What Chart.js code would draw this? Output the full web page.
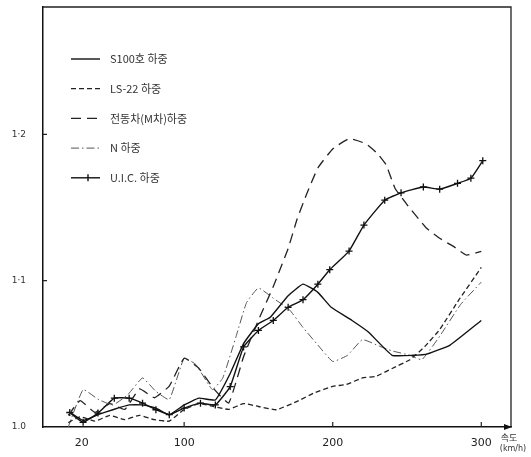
<!DOCTYPE html>
<html>
<head>
<meta charset="utf-8">
<script src="https://cdn.jsdelivr.net/npm/chart.js@4"></script>
<style>
  html, body { margin: 0; background: #fff; }
  #wrap { width: 531px; height: 457px; }
</style>
</head>
<body>
<div id="wrap"><canvas id="loadChart"></canvas></div>
<script>
// series labels
const seriesNames = ['S100호 하중', 'LS-22 하중', '전동차(M차)하중', 'N 하중', 'U.I.C. 하중'];

// S100 (solid)
const s100X = [24, 32, 42, 52, 63, 72, 81, 90, 100, 110, 121, 131, 140, 150, 158, 170, 180, 190, 199, 213, 224, 240, 254, 264, 279, 300];
const s100Y = [1.0095, 1.0045, 1.0084, 1.0118, 1.0151, 1.0151, 1.0129, 1.0084, 1.0151, 1.0197, 1.0185, 1.0366, 1.057, 1.0705, 1.075, 1.0897, 1.0976, 1.092, 1.0818, 1.0728, 1.0649, 1.049, 1.049, 1.050, 1.056, 1.0728];

// LS-22 (short dash)
const ls22X = [22, 30, 40, 50, 60, 70, 80, 90, 100, 110, 120, 130, 140, 150, 162, 176, 188, 200, 209, 220, 229, 240, 252, 262, 272, 285, 300];
const ls22Y = [1.003, 1.007, 1.004, 1.008, 1.005, 1.008, 1.005, 1.004, 1.012, 1.016, 1.014, 1.012, 1.016, 1.014, 1.0118, 1.0175, 1.0235, 1.0278, 1.029, 1.0335, 1.0346, 1.040, 1.046, 1.055, 1.0666, 1.087, 1.109];

// 전동차 M차 (long dash)
const emuX = [22, 30, 40, 50, 60, 70, 80, 90, 100, 110, 120, 130, 140, 150, 160, 170, 176, 182, 190, 200, 211, 222, 230, 236, 242, 250, 263, 272, 281, 290, 300];
const emuY = [1.008, 1.018, 1.010, 1.016, 1.012, 1.026, 1.020, 1.028, 1.047, 1.040, 1.026, 1.0164, 1.048, 1.073, 1.096, 1.122, 1.142, 1.158, 1.177, 1.190, 1.197, 1.1937, 1.187, 1.179, 1.163, 1.152, 1.136, 1.129, 1.1236, 1.1175, 1.120];

// N (dash-dot)
const nX = [22, 32, 42, 52, 62, 72, 81, 90, 100, 108, 119, 126, 135, 142, 150, 160, 171, 180, 190, 200, 210, 220, 232, 240, 252, 260, 272, 286, 300];
const nY = [1.000, 1.0255, 1.019, 1.015, 1.022, 1.0335, 1.0243, 1.0187, 1.047, 1.0426, 1.0256, 1.0335, 1.062, 1.085, 1.095, 1.088, 1.080, 1.068, 1.056, 1.0448, 1.049, 1.0597, 1.055, 1.052, 1.049, 1.046, 1.062, 1.0836, 1.099];

// U.I.C. (solid with marks)
const uicX = [23, 32, 42, 53, 63, 72, 81, 90, 100, 111, 121, 131, 140, 150, 160, 170, 180, 190, 198, 211, 221, 235, 246, 261, 272, 284, 293, 301];
const uicY = [1.0099, 1.0032, 1.0095, 1.0197, 1.0197, 1.0163, 1.0118, 1.0084, 1.0129, 1.0163, 1.0151, 1.0276, 1.0547, 1.066, 1.0728, 1.0818, 1.087, 1.0976, 1.1075, 1.1202, 1.138, 1.155, 1.160, 1.164, 1.1625, 1.1665, 1.170, 1.182];

// axis ticks
const xTickValues = [31, 100, 200, 300];
const xTickLabels = ['20', '100', '200', '300'];
const yTickValues = [1.0, 1.1, 1.2];
const yTickLabels = ['1.0', '1·1', '1·2'];
const xUnitLabel = ['속도', '(km/h)'];

const pts = (xs, ys) => xs.map((x, i) => ({ x: x, y: ys[i] }));

const styles = [
    { data: pts(s100X, s100Y), borderColor: '#111', borderWidth: 1.4, borderDash: [] },
    { data: pts(ls22X, ls22Y), borderColor: '#222', borderWidth: 1.3, borderDash: [5, 3] },
    { data: pts(emuX, emuY), borderColor: '#222', borderWidth: 1.3, borderDash: [10, 6] },
    { data: pts(nX, nY), borderColor: '#555', borderWidth: 1, borderDash: [8, 3, 1.5, 3] },
    { data: pts(uicX, uicY), borderColor: '#111', borderWidth: 1.4, borderDash: [],
      pointStyle: 'cross', pointRadius: 3.5, pointBorderWidth: 1.3, pointBorderColor: '#111' }
];

const datasets = styles.map((s, i) => Object.assign({
    label: seriesNames[i],
    tension: 0.12,
    fill: false,
    pointRadius: 0
}, s));

const framePlugin = {
    id: 'frame',
    afterDraw(chart) {
        const ctx = chart.ctx;
        const a = chart.chartArea;
        const xs = chart.scales.x;
        const ys = chart.scales.y;
        ctx.save();

        // top and right frame
        ctx.strokeStyle = '#222';
        ctx.lineWidth = 1.3;
        ctx.beginPath();
        ctx.moveTo(a.left, a.top);
        ctx.lineTo(a.right, a.top);
        ctx.lineTo(a.right, a.bottom);
        ctx.stroke();

        // inner tick marks
        ctx.lineWidth = 1.2;
        ctx.beginPath();
        xTickValues.slice(1).forEach(v => {
            const px = xs.getPixelForValue(v);
            ctx.moveTo(px, a.bottom);
            ctx.lineTo(px, a.bottom - 5);
        });
        yTickValues.slice(1).forEach(v => {
            const py = ys.getPixelForValue(v);
            ctx.moveTo(a.left, py);
            ctx.lineTo(a.left + 4, py);
        });
        ctx.stroke();

        // arrow at end of x axis
        ctx.fillStyle = '#111';
        ctx.beginPath();
        ctx.moveTo(a.right + 1, a.bottom);
        ctx.lineTo(a.right - 7, a.bottom - 3);
        ctx.lineTo(a.right - 7, a.bottom + 3);
        ctx.closePath();
        ctx.fill();

        // unit label
        ctx.fillStyle = '#333';
        ctx.textAlign = 'center';
        ctx.textBaseline = 'middle';
        ctx.font = '9px "Noto Sans CJK KR"';
        ctx.fillText(xUnitLabel[0], a.right - 2, a.bottom + 11);
        ctx.font = '8px "DejaVu Sans"';
        ctx.fillText(xUnitLabel[1], a.right + 2, a.bottom + 22);

        // legend inside the plot
        ctx.textAlign = 'left';
        ctx.font = '11px "Noto Sans CJK KR"';
        chart.data.datasets.forEach((ds, i) => {
            const y = a.top + 52 + i * 29.7;
            const x0 = 71, x1 = 100;
            ctx.strokeStyle = ds.borderColor;
            ctx.lineWidth = ds.borderWidth;
            ctx.setLineDash(ds.borderDash || []);
            ctx.beginPath();
            ctx.moveTo(x0, y);
            ctx.lineTo(x1, y);
            ctx.stroke();
            ctx.setLineDash([]);
            if (ds.pointStyle === 'cross') {
                ctx.beginPath();
                ctx.moveTo(88, y - 3.5);
                ctx.lineTo(88, y + 3.5);
                ctx.stroke();
            }
            ctx.fillStyle = '#333';
            ctx.fillText(ds.label, 110, y);
        });
        ctx.restore();
    }
};

new Chart(document.getElementById('loadChart'), {
    type: 'line',
    data: { datasets: datasets },
    options: {
        responsive: true,
        maintainAspectRatio: false,
        animation: false,
        layout: { padding: { top: 7, right: 20, left: 0, bottom: 0 } },
        plugins: {
            legend: { display: false },
            tooltip: { enabled: false }
        },
        scales: {
            x: {
                type: 'linear',
                min: 5,
                max: 320,
                grid: { display: false },
                border: { display: true, color: '#111', width: 1.5 },
                afterBuildTicks: s => { s.ticks = xTickValues.map(v => ({ value: v })); },
                afterFit: s => { s.height = 30; s.paddingLeft = 0; s.paddingRight = 0; },
                ticks: {
                    padding: 2,
                    color: '#222',
                    font: { family: 'DejaVu Sans', size: 11 },
                    maxRotation: 0,
                    callback: (v, i) => xTickLabels[i]
                }
            },
            y: {
                type: 'linear',
                min: 1.0,
                max: 1.287,
                grid: { display: false },
                border: { display: true, color: '#111', width: 1.5 },
                afterBuildTicks: s => { s.ticks = yTickValues.map(v => ({ value: v })); },
                afterFit: s => { s.width = 43; s.paddingTop = 0; s.paddingBottom = 0; },
                ticks: {
                    padding: 9,
                    color: '#333',
                    font: { family: 'DejaVu Sans', size: 9 },
                    callback: (v, i) => yTickLabels[i]
                }
            }
        }
    },
    plugins: [framePlugin]
});
</script>
</body>
</html>
